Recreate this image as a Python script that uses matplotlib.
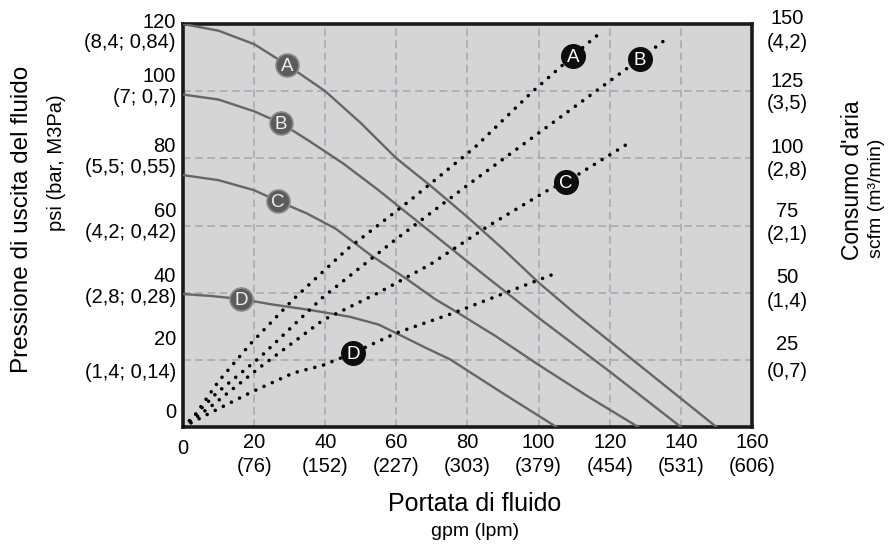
import numpy as np
import matplotlib
matplotlib.use("Agg")
import matplotlib.pyplot as plt

plt.rcParams['font.family'] = ['Liberation Sans', 'DejaVu Sans']

# fluid outlet pressure curves (gpm -> psi)
a_gpm = [0, 10, 20, 29, 40, 50, 60, 70, 80, 90, 100, 110, 120, 130, 140, 150]
a_psi = [120, 118, 114, 108, 100, 90.5, 80, 71.5, 62.5, 53, 43, 34, 25.5, 17, 8.5, 0]
b_gpm = [0, 10, 20, 27.5, 35, 45, 55, 65, 75, 85, 100, 120, 140]
b_psi = [99, 97.5, 94, 90.5, 85.5, 78.5, 70.5, 62, 53.5, 45, 32.5, 16.5, 0]
c_gpm = [0, 10, 20, 26.7, 35, 43, 53, 63, 71, 75, 88, 100, 114, 128]
c_psi = [75, 73.5, 70.5, 67.3, 63.5, 59, 51, 44, 38, 35.5, 27, 18.5, 9, 0]
d_gpm = [0, 8, 16.3, 25, 36, 47, 55, 61, 68, 75, 90, 105]
d_psi = [39.6, 39, 38.1, 36.5, 34.8, 32.8, 30.5, 27.4, 23.7, 20.2, 10, 0]

# air consumption curves (gpm -> scfm)
aa_gpm = [0, 3, 10, 19, 31, 46, 64, 82, 98, 110, 118]
aa_scfm = [0, 3.7, 17, 31, 47.5, 66, 84.5, 104, 124.5, 138.5, 147.5]
ab_gpm = [0, 9.5, 21.7, 39.4, 59.6, 80, 100, 128.5, 136.7]
ab_scfm = [0, 12.7, 26, 48.4, 69.6, 90, 109.4, 137, 145.2]
ac_gpm = [0, 7.6, 21.7, 39.4, 55, 69.5, 86.3, 103.2, 107.7, 124.9]
ac_scfm = [0, 7.4, 22.3, 39.8, 50, 60.5, 75.2, 88.6, 91.2, 105.3]
ad_gpm = [0, 7.6, 18.8, 31, 39.4, 47.8, 60, 76, 89, 105]
ad_scfm = [0, 5.2, 12.7, 20.1, 23, 27.5, 35, 42.4, 49.1, 57.3]

letters = ['A', 'B', 'C', 'D']
psi_mark_gpm = [29.2, 27.6, 26.7, 16.3]
air_mark_gpm = [109.7, 128.5, 107.7, 47.8]

gpm_ticks = [0, 20, 40, 60, 80, 100, 120, 140, 160]
lpm_labels = ['', '(76)', '(152)', '(227)', '(303)', '(379)', '(454)', '(531)', '(606)']
psi_ticks = [0, 20, 40, 60, 80, 100, 120]
bar_labels = ['', '(1,4; 0,14)', '(2,8; 0,28)', '(4,2; 0,42)', '(5,5; 0,55)', '(7; 0,7)', '(8,4; 0,84)']
scfm_ticks = [25, 50, 75, 100, 125, 150]
m3_labels = ['(0,7)', '(1,4)', '(2,1)', '(2,8)', '(3,5)', '(4,2)']

# pixel offsets of the stacked tick labels from their grid line
left_num_dy = [14, 20, 16, 14, 12, 15, 2]
left_par_dy = [0, -13, -5, -7, -9, -6, -19]
right_num_dy = [15, 15, 14, 11, 10, 6]
right_par_dy = [-12, -9, -9, -12, -12, -18]

W, H = 895, 550
fig = plt.figure(figsize=(W / 100, H / 100), dpi=100)
ax = fig.add_axes([183 / W, 1 - 427 / H, (752 - 183) / W, (427 - 24) / H])
ax.set_facecolor('#d5d5d5')
ax.set_xlim(0, 160)
ax.set_ylim(0, 120)
ax.set_xticks(gpm_ticks)
ax.set_yticks(psi_ticks)
ax.tick_params(length=0, labelbottom=False, labelleft=False)
ax.grid(True, color='#a6a6b2', linestyle=(0, (5, 3)), linewidth=1.1)
for s in ax.spines.values():
    s.set_linewidth(2.6)
    s.set_color('#1a1a1a')

ax2 = ax.twinx()
ax2.set_ylim(0, 150)
ax2.set_yticks([])
for s in ax2.spines.values():
    s.set_visible(False)

psi_curves = [(a_gpm, a_psi), (b_gpm, b_psi), (c_gpm, c_psi), (d_gpm, d_psi)]
air_curves = [(aa_gpm, aa_scfm), (ab_gpm, ab_scfm), (ac_gpm, ac_scfm), (ad_gpm, ad_scfm)]

for (gx, gy), mx, lt in zip(psi_curves, psi_mark_gpm, letters):
    ax.plot(gx, gy, color='#666666', lw=1.7, solid_joinstyle='round', zorder=3)
    my = np.interp(mx, gx, gy)
    ax.plot(mx, my, 'o', ms=16.5, mfc='#5c5c5c', mec='#8a8a8a', mew=1.2, zorder=4)
    ax.annotate(lt, xy=(mx, my), xytext=(0, -1.5), textcoords='offset pixels',
                ha='center', va='center', color='#f0f0f0', fontsize=13.5, zorder=5)

for (gx, gy), mx, lt in zip(air_curves, air_mark_gpm, letters):
    ax2.plot(gx, gy, color='black', lw=2.6, linestyle=(0, (0.01, 2.5)),
             dash_capstyle='round', zorder=3)
    my = np.interp(mx, gx, gy)
    ax2.plot(mx, my, 'o', ms=17, mfc='#0d0d0d', mec='#0d0d0d', zorder=4)
    ax2.annotate(lt, xy=(mx, my), xytext=(0, -1.5), textcoords='offset pixels',
                 ha='center', va='center', color='white', fontsize=13.5, zorder=5)

fs = 14.5
# left tick labels
for v, lab, dn, dp in zip(psi_ticks, bar_labels, left_num_dy, left_par_dy):
    ax.annotate(str(v), xy=(0, v), xycoords=('axes fraction', 'data'),
                xytext=(-7, dn), textcoords='offset pixels',
                ha='right', va='center', fontsize=fs, annotation_clip=False)
    if lab:
        ax.annotate(lab, xy=(0, v), xycoords=('axes fraction', 'data'),
                    xytext=(-7, dp), textcoords='offset pixels',
                    ha='right', va='center', fontsize=fs, annotation_clip=False)

# right tick labels
for v, lab, dn, dp in zip(scfm_ticks, m3_labels, right_num_dy, right_par_dy):
    ax2.annotate(str(v), xy=(1, v), xycoords=('axes fraction', 'data'),
                 xytext=(35, dn), textcoords='offset pixels',
                 ha='center', va='center', fontsize=fs, annotation_clip=False)
    ax2.annotate(lab, xy=(1, v), xycoords=('axes fraction', 'data'),
                 xytext=(35, dp), textcoords='offset pixels',
                 ha='center', va='center', fontsize=fs, annotation_clip=False)

# bottom tick labels
for v, lab in zip(gpm_ticks, lpm_labels):
    dy = -21 if v == 0 else -16
    ax.annotate(str(v), xy=(v, 0), xycoords=('data', 'axes fraction'),
                xytext=(0, dy), textcoords='offset pixels',
                ha='center', va='center', fontsize=fs, annotation_clip=False)
    if lab:
        ax.annotate(lab, xy=(v, 0), xycoords=('data', 'axes fraction'),
                    xytext=(0, -39), textcoords='offset pixels',
                    ha='center', va='center', fontsize=fs, annotation_clip=False)

fig.text(22 / W, 1 - 219 / H, 'Pressione di uscita del fluido', rotation=90,
         ha='center', va='center', fontsize=17.5)
fig.text(57 / W, 1 - 163 / H, 'psi (bar, M3Pa)', rotation=90,
         ha='center', va='center', fontsize=14.5)
fig.text(853 / W, 1 - 180 / H, "Consumo d'aria", rotation=90,
         ha='center', va='center', fontsize=16.5)
fig.text(877 / W, 1 - 198 / H, 'scfm (m³/min)', rotation=90,
         ha='center', va='center', fontsize=14)
fig.text(475 / W, 1 - 504 / H, 'Portata di fluido', ha='center', va='center', fontsize=18)
fig.text(475 / W, 1 - 532 / H, 'gpm (lpm)', ha='center', va='center', fontsize=14)

fig.savefig('out.png', dpi=100)
